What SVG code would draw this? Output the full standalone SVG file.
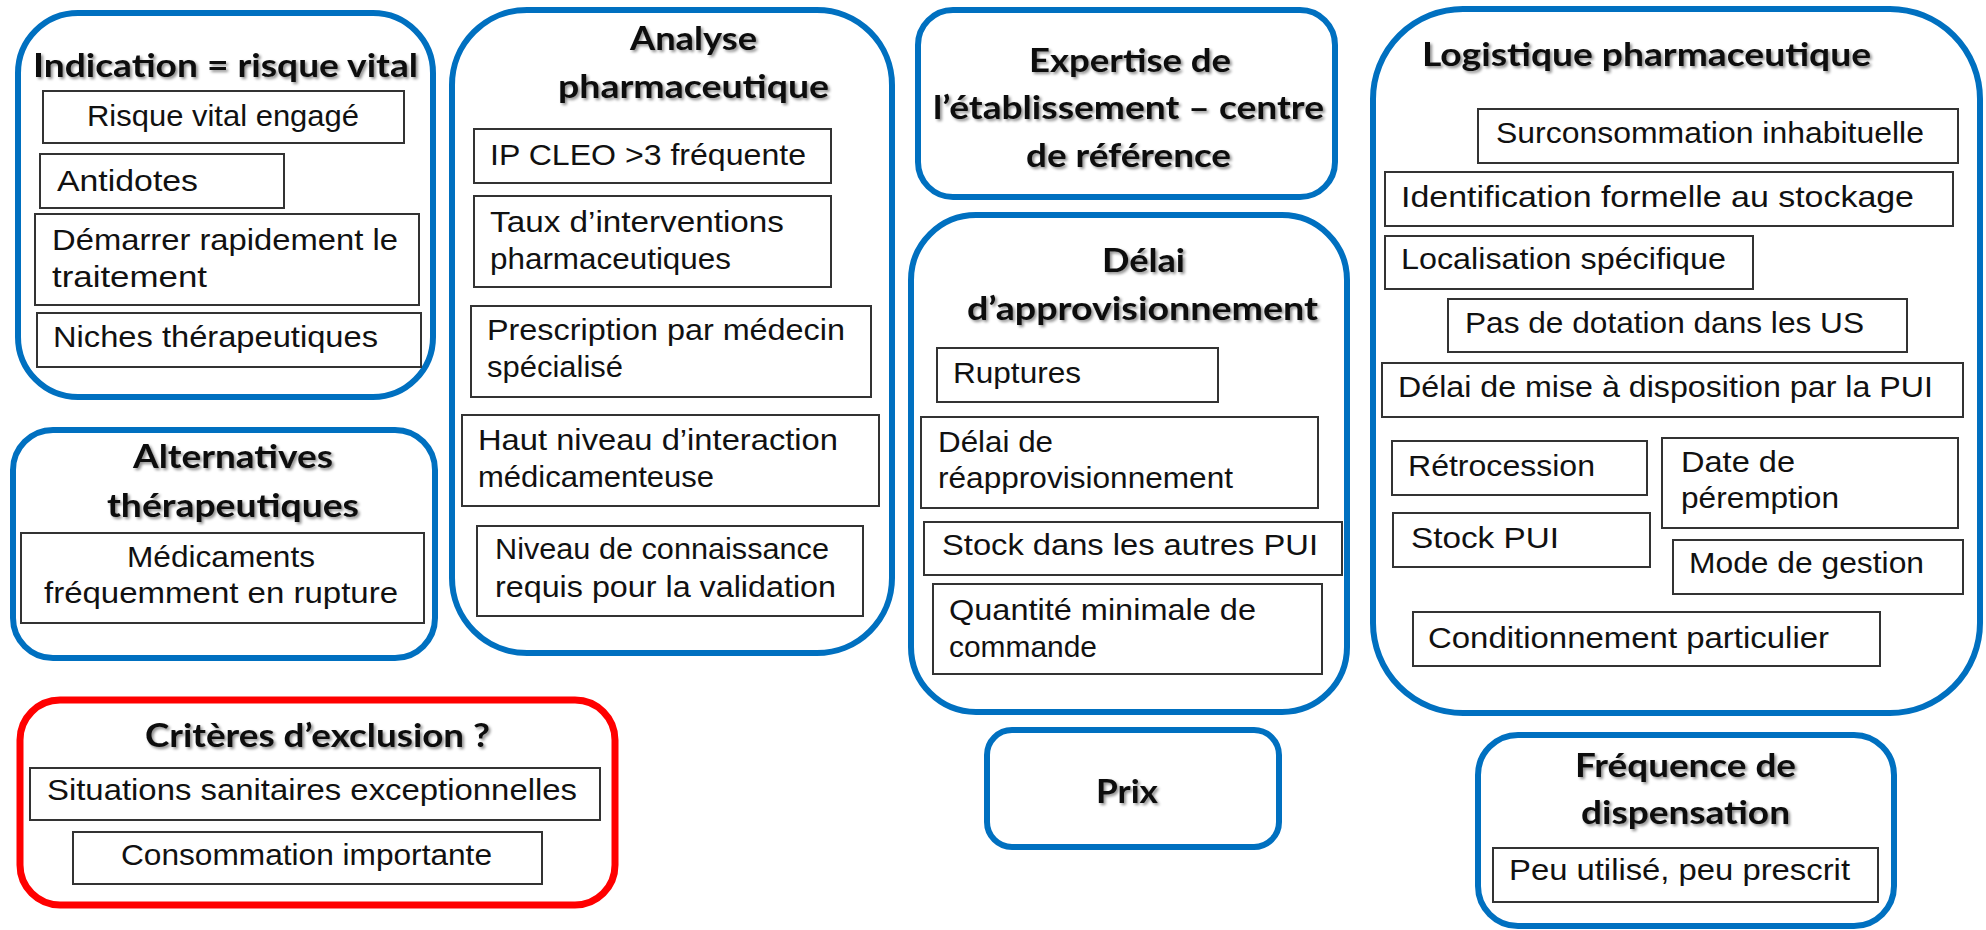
<svg xmlns="http://www.w3.org/2000/svg" width="1986" height="930" viewBox="0 0 1986 930">
<style>
.grp{fill:#fff;stroke:#0070C0;stroke-width:6}
.red{fill:#fff;stroke:#FF0000;stroke-width:7}
.sub{fill:#fff;stroke:#333;stroke-width:2}
.t{font-family:Lato,"Liberation Sans",sans-serif;font-weight:bold;font-size:33px;fill:#111;filter:url(#sh)}
.b{font-family:"Liberation Sans",Arial,sans-serif;font-size:30px;fill:#111}
</style>
<defs>
<filter id="sh" x="-10%" y="-30%" width="120%" height="160%">
<feGaussianBlur in="SourceAlpha" stdDeviation="1.5"/>
<feOffset dx="2" dy="2" result="o"/>
<feComponentTransfer><feFuncA type="linear" slope="0.45"/></feComponentTransfer>
<feMerge><feMergeNode/><feMergeNode in="SourceGraphic"/></feMerge>
</filter>
</defs>
<rect width="1986" height="930" fill="#fff"/>
<g id="connectors"/>

<g id="indication">
<rect class="grp" x="18" y="13" width="415" height="384" rx="60"/>
<text class="t" x="33" y="77" textLength="385" lengthAdjust="spacingAndGlyphs">Indication = risque vital</text>
<rect class="sub" x="43" y="91" width="361" height="52"/>
<text class="b" x="87" y="126" textLength="272" lengthAdjust="spacingAndGlyphs">Risque vital engagé</text>
<rect class="sub" x="40" y="154" width="244" height="54"/>
<text class="b" x="57" y="191" textLength="141" lengthAdjust="spacingAndGlyphs">Antidotes</text>
<rect class="sub" x="35" y="214" width="384" height="91"/>
<text class="b" x="52" y="250" textLength="346" lengthAdjust="spacingAndGlyphs">Démarrer rapidement le</text>
<text class="b" x="52" y="287" textLength="155" lengthAdjust="spacingAndGlyphs">traitement</text>
<rect class="sub" x="37" y="313" width="384" height="54"/>
<text class="b" x="53" y="347" textLength="325" lengthAdjust="spacingAndGlyphs">Niches thérapeutiques</text>
</g>

<g id="alternatives">
<rect class="grp" x="13" y="430" width="422" height="228" rx="40"/>
<text class="t" x="133" y="468" textLength="200" lengthAdjust="spacingAndGlyphs">Alternatives</text>
<text class="t" x="107" y="517" textLength="252" lengthAdjust="spacingAndGlyphs">thérapeutiques</text>
<rect class="sub" x="21" y="533" width="403" height="90"/>
<text class="b" x="127" y="567" textLength="188" lengthAdjust="spacingAndGlyphs">Médicaments</text>
<text class="b" x="44" y="603" textLength="354" lengthAdjust="spacingAndGlyphs">fréquemment en rupture</text>
</g>

<g id="exclusion">
<rect class="red" x="20" y="700" width="595" height="205" rx="40"/>
<text class="t" x="145" y="747" textLength="345" lengthAdjust="spacingAndGlyphs">Critères d’exclusion ?</text>
<rect class="sub" x="30" y="768" width="570" height="52"/>
<text class="b" x="47" y="800" textLength="530" lengthAdjust="spacingAndGlyphs">Situations sanitaires exceptionnelles</text>
<rect class="sub" x="73" y="832" width="469" height="52"/>
<text class="b" x="121" y="865" textLength="371" lengthAdjust="spacingAndGlyphs">Consommation importante</text>
</g>

<g id="analyse">
<rect class="grp" x="452" y="10" width="440" height="643" rx="75"/>
<text class="t" x="630" y="50" textLength="127" lengthAdjust="spacingAndGlyphs">Analyse</text>
<text class="t" x="558" y="98" textLength="271" lengthAdjust="spacingAndGlyphs">pharmaceutique</text>
<rect class="sub" x="474" y="129" width="357" height="54"/>
<text class="b" x="490" y="165" textLength="316" lengthAdjust="spacingAndGlyphs">IP CLEO &gt;3 fréquente</text>
<rect class="sub" x="474" y="196" width="357" height="91"/>
<text class="b" x="490" y="232" textLength="294" lengthAdjust="spacingAndGlyphs">Taux d’interventions</text>
<text class="b" x="490" y="269" textLength="241" lengthAdjust="spacingAndGlyphs">pharmaceutiques</text>
<rect class="sub" x="471" y="306" width="400" height="91"/>
<text class="b" x="487" y="340" textLength="358" lengthAdjust="spacingAndGlyphs">Prescription par médecin</text>
<text class="b" x="487" y="377" textLength="136" lengthAdjust="spacingAndGlyphs">spécialisé</text>
<rect class="sub" x="462" y="415" width="417" height="91"/>
<text class="b" x="478" y="450" textLength="360" lengthAdjust="spacingAndGlyphs">Haut niveau d’interaction</text>
<text class="b" x="478" y="487" textLength="236" lengthAdjust="spacingAndGlyphs">médicamenteuse</text>
<rect class="sub" x="477" y="526" width="386" height="90"/>
<text class="b" x="495" y="559" textLength="334" lengthAdjust="spacingAndGlyphs">Niveau de connaissance</text>
<text class="b" x="495" y="597" textLength="341" lengthAdjust="spacingAndGlyphs">requis pour la validation</text>
</g>

<g id="expertise">
<rect class="grp" x="918" y="10" width="417" height="187" rx="35"/>
<text class="t" x="1029" y="72" textLength="202" lengthAdjust="spacingAndGlyphs">Expertise de</text>
<text class="t" x="933" y="119" textLength="391" lengthAdjust="spacingAndGlyphs">l’établissement – centre</text>
<text class="t" x="1026" y="167" textLength="205" lengthAdjust="spacingAndGlyphs">de référence</text>
</g>

<g id="delai">
<rect class="grp" x="911" y="215" width="436" height="497" rx="65"/>
<text class="t" x="1102" y="272" textLength="83" lengthAdjust="spacingAndGlyphs">Délai</text>
<text class="t" x="967" y="320" textLength="351" lengthAdjust="spacingAndGlyphs">d’approvisionnement</text>
<rect class="sub" x="937" y="348" width="281" height="54"/>
<text class="b" x="953" y="383" textLength="128" lengthAdjust="spacingAndGlyphs">Ruptures</text>
<rect class="sub" x="921" y="417" width="397" height="91"/>
<text class="b" x="938" y="452" textLength="115" lengthAdjust="spacingAndGlyphs">Délai de</text>
<text class="b" x="938" y="488" textLength="295" lengthAdjust="spacingAndGlyphs">réapprovisionnement</text>
<rect class="sub" x="924" y="522" width="418" height="53"/>
<text class="b" x="942" y="555" textLength="376" lengthAdjust="spacingAndGlyphs">Stock dans les autres PUI</text>
<rect class="sub" x="933" y="584" width="389" height="90"/>
<text class="b" x="949" y="620" textLength="307" lengthAdjust="spacingAndGlyphs">Quantité minimale de</text>
<text class="b" x="949" y="657" textLength="148" lengthAdjust="spacingAndGlyphs">commande</text>
</g>

<g id="prix">
<rect class="grp" x="987" y="730" width="292" height="117" rx="25"/>
<text class="t" x="1096" y="803" textLength="62" lengthAdjust="spacingAndGlyphs">Prix</text>
</g>

<g id="logistique">
<rect class="grp" x="1373" y="9" width="607" height="704" rx="90"/>
<text class="t" x="1422" y="66" textLength="449" lengthAdjust="spacingAndGlyphs">Logistique pharmaceutique</text>
<rect class="sub" x="1478" y="109" width="480" height="54"/>
<text class="b" x="1496" y="143" textLength="428" lengthAdjust="spacingAndGlyphs">Surconsommation inhabituelle</text>
<rect class="sub" x="1385" y="172" width="568" height="54"/>
<text class="b" x="1401" y="207" textLength="513" lengthAdjust="spacingAndGlyphs">Identification formelle au stockage</text>
<rect class="sub" x="1385" y="236" width="368" height="53"/>
<text class="b" x="1401" y="269" textLength="325" lengthAdjust="spacingAndGlyphs">Localisation spécifique</text>
<rect class="sub" x="1448" y="299" width="459" height="53"/>
<text class="b" x="1465" y="333" textLength="399" lengthAdjust="spacingAndGlyphs">Pas de dotation dans les US</text>
<rect class="sub" x="1382" y="363" width="581" height="54"/>
<text class="b" x="1398" y="397" textLength="535" lengthAdjust="spacingAndGlyphs">Délai de mise à disposition par la PUI</text>
<rect class="sub" x="1392" y="441" width="255" height="54"/>
<text class="b" x="1408" y="476" textLength="187" lengthAdjust="spacingAndGlyphs">Rétrocession</text>
<rect class="sub" x="1393" y="513" width="257" height="54"/>
<text class="b" x="1411" y="548" textLength="148" lengthAdjust="spacingAndGlyphs">Stock PUI</text>
<rect class="sub" x="1662" y="438" width="296" height="90"/>
<text class="b" x="1681" y="472" textLength="114" lengthAdjust="spacingAndGlyphs">Date de</text>
<text class="b" x="1681" y="508" textLength="158" lengthAdjust="spacingAndGlyphs">péremption</text>
<rect class="sub" x="1673" y="540" width="290" height="54"/>
<text class="b" x="1689" y="573" textLength="235" lengthAdjust="spacingAndGlyphs">Mode de gestion</text>
<rect class="sub" x="1413" y="612" width="467" height="54"/>
<text class="b" x="1428" y="648" textLength="401" lengthAdjust="spacingAndGlyphs">Conditionnement particulier</text>
</g>

<g id="frequence">
<rect class="grp" x="1478" y="735" width="416" height="191" rx="40"/>
<text class="t" x="1575" y="777" textLength="221" lengthAdjust="spacingAndGlyphs">Fréquence de</text>
<text class="t" x="1581" y="824" textLength="209" lengthAdjust="spacingAndGlyphs">dispensation</text>
<rect class="sub" x="1493" y="848" width="385" height="54"/>
<text class="b" x="1509" y="880" textLength="341" lengthAdjust="spacingAndGlyphs">Peu utilisé, peu prescrit</text>
</g>
</svg>
